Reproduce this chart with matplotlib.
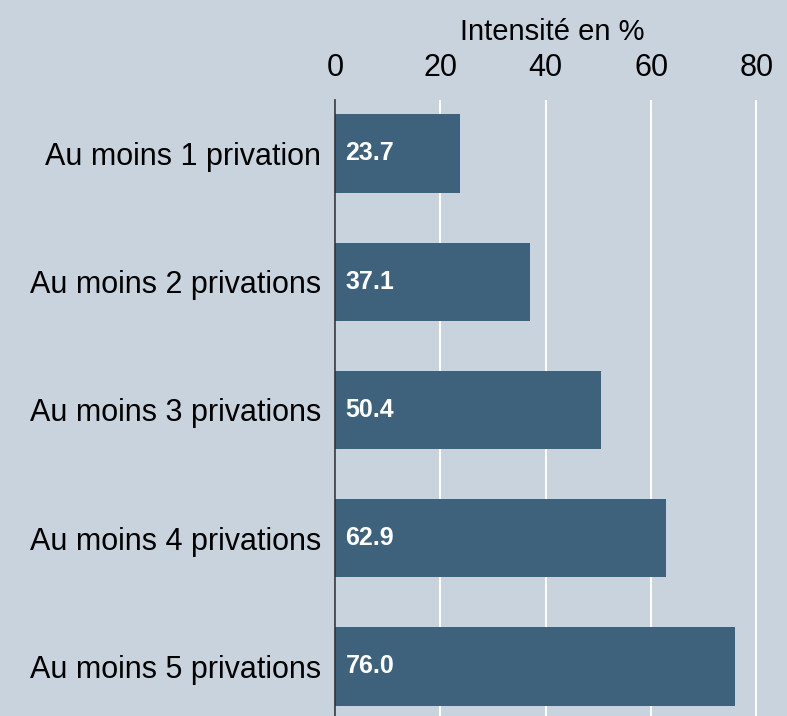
import matplotlib
matplotlib.use("Agg")
import matplotlib.pyplot as plt

categories = ["Au moins 1 privation", "Au moins 2 privations", "Au moins 3 privations",
              "Au moins 4 privations", "Au moins 5 privations"]
values = [23.7, 37.1, 50.4, 62.9, 76.0]
ticks = [0, 20, 40, 60, 80]

plt.rcParams['font.family'] = ["Liberation Sans", 'DejaVu Sans']

bg = "#c8d3de"
bar_color = "#3e627c"

fig = plt.figure(figsize=(7.87, 7.16), dpi=100, facecolor=bg)
ax = fig.add_axes([335/787, 0, 1 - 335/787, (716-100)/716], facecolor=bg)

y = range(len(categories))
ax.barh(y, values, height=0.61, color=bar_color, zorder=3)
for i, v in enumerate(values):
    ax.text(2.0, i, f"{v:.1f}", color="white", fontsize=18, fontweight="bold",
            va="center", ha="left", zorder=4)

ax.set_xlim(0, 85.8)
ax.set_ylim(4.386, -0.417)
ax.set_yticks(list(y))
ax.set_yticklabels(categories, fontsize=22)
ax.set_xticks(ticks)
ax.xaxis.tick_top()
ax.tick_params(axis="x", length=0, labelsize=22, pad=12)
ax.tick_params(axis="y", length=0, pad=10)
ax.set_xlabel("Intensité en %", fontsize=21, labelpad=2)
ax.xaxis.set_label_position("top")
ax.xaxis.set_label_coords((552 - 335) / (787 - 335), 1.0 + 60 / 616)
ax.grid(axis="x", color="white", linewidth=1.5, zorder=1)
for s in ["top", "right", "bottom"]:
    ax.spines[s].set_visible(False)
ax.spines["left"].set_color("#333333")
ax.spines["left"].set_linewidth(1.2)
ax.spines["left"].set_zorder(5)

fig.savefig("out.png", dpi=100, facecolor=bg)
